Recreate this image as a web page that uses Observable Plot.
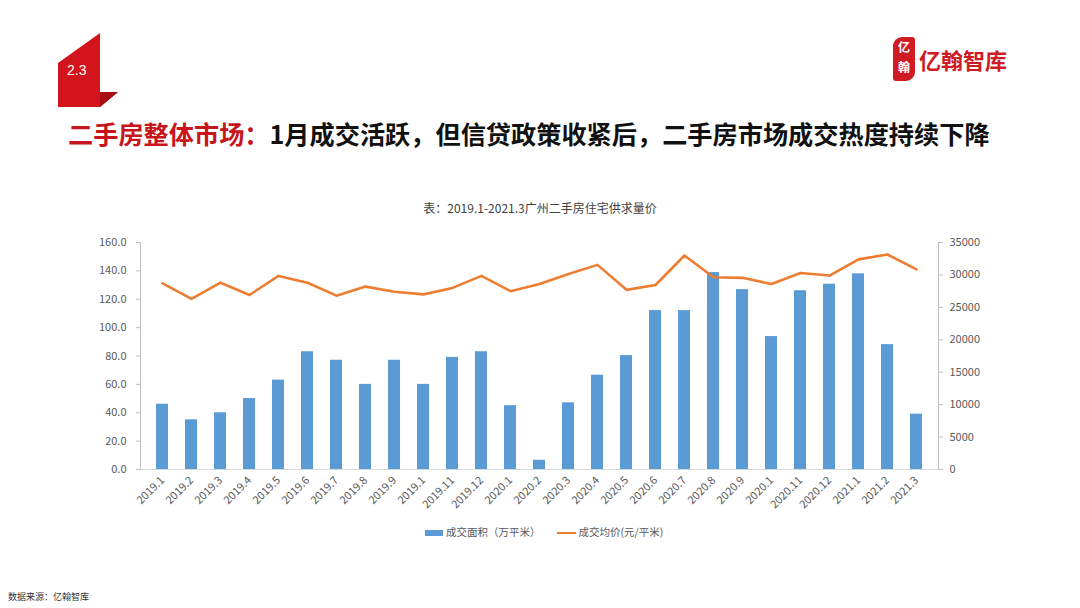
<!DOCTYPE html>
<html><head><meta charset="utf-8">
<script src="https://cdn.jsdelivr.net/npm/d3@7"></script>
<script src="https://cdn.jsdelivr.net/npm/@observablehq/plot@0.6"></script>
<style>
body{margin:0;background:#fff;}
#page{position:relative;width:1080px;height:608px;overflow:hidden;font-family:"Noto Sans CJK SC","Noto Sans",sans-serif;background:#fff;}
.abs{position:absolute;white-space:nowrap;}
#badge{left:58px;top:33px;width:60px;height:74px;background:#D2141C;clip-path:polygon(0% 40.5%,70% 0%,70% 79.7%,100% 79.7%,70% 100%,0% 100%);}
#fold{left:100px;top:92px;width:18px;height:15px;background:#A80E14;clip-path:polygon(0 0,100% 0,0 100%);}
#badgeTxt{left:67px;top:62px;color:#fff;font-size:14px;font-family:"Liberation Sans",Arial,sans-serif;}
#title{left:68px;top:115px;font-size:25.2px;font-weight:bold;color:#111;}
#title span{color:#C8151D;}
#logoIcon{left:893px;top:37px;width:22px;height:44px;background:#CE1B24;border-radius:9px 3px 9px 3px;color:#fff;font-size:12px;line-height:20px;text-align:center;font-weight:bold;}
#logoTxt{left:919px;top:43px;font-size:22px;font-weight:bold;color:#CE1B24;}
#ctitle{left:0;width:1080px;top:199px;text-align:center;font-size:12px;color:#404040;}
#chart{left:0;top:230px;}
#legend{left:425px;top:524px;font-size:10.5px;color:#595959;}
.sw{display:inline-block;vertical-align:middle;margin-right:3px;}
#src{left:8px;top:590px;font-size:9px;color:#333;}
</style></head>
<body><div id="page">
<div id="badge" class="abs"></div>
<div id="fold" class="abs"></div>
<div id="badgeTxt" class="abs">2.3</div>
<div id="title" class="abs"><span>二手房整体市场：</span>1月成交活跃，但信贷政策收紧后，二手房市场成交热度持续下降</div>
<div id="logoIcon" class="abs">亿<br>翰</div>
<div id="logoTxt" class="abs">亿翰智库</div>
<div id="ctitle" class="abs">表：2019.1-2021.3广州二手房住宅供求量价</div>
<div id="chart" class="abs"></div>
<div id="legend" class="abs"><span class="sw" style="width:18px;height:6px;background:#5B9BD5"></span>成交面积（万平米）<span class="sw" style="width:19px;height:2px;background:#ED7D31;margin-left:16px"></span>成交均价(元/平米)</div>
<div id="src" class="abs">数据来源：亿翰智库</div>
</div>
<script>
const months = ["2019.01","2019.02","2019.03","2019.04","2019.05","2019.06","2019.07","2019.08","2019.09","2019.10","2019.11","2019.12",
  "2020.01","2020.02","2020.03","2020.04","2020.05","2020.06","2020.07","2020.08","2020.09","2020.10","2020.11","2020.12",
  "2021.01","2021.02","2021.03"];
const tickLabels = ["2019.1","2019.2","2019.3","2019.4","2019.5","2019.6","2019.7","2019.8","2019.9","2019.1","2019.11","2019.12",
  "2020.1","2020.2","2020.3","2020.4","2020.5","2020.6","2020.7","2020.8","2020.9","2020.1","2020.11","2020.12",
  "2021.1","2021.2","2021.3"];
const area = [46,35,40,50,63,83,77,60,77,60,79,83,
  45,6.5,47,66.5,80.3,112,112,138.8,126.8,93.7,126,130.6,
  137.9,88,39];
const price = [28700,26300,28800,26900,29850,28800,26800,28200,27400,27000,28000,29850,
  27500,28600,30150,31550,27700,28450,33000,29650,29550,28600,30300,29900,
  32400,33150,30850];
const leftTicks = [0,20,40,60,80,100,120,140,160];
const rightTicks = [0,5000,10000,15000,20000,25000,30000,35000];
const leftMax = 160, rightMax = 35000;

const rows = months.map((m,i)=>({month:m, area:area[i], price:price[i]}));
const toLeft = v => v * leftMax / rightMax;

const chart = Plot.plot({
  width:1080, height:290,
  marginTop:12, marginLeft:140, marginRight:142, marginBottom:51,
  style:{fontFamily:"'Noto Sans CJK SC','Noto Sans',sans-serif", fontSize:"11px", color:"#595959", background:"transparent"},
  x:{domain:months, paddingInner:0.6, paddingOuter:0.3, label:null, axis:null},
  y:{domain:[0,leftMax], label:null, axis:null},
  marks:[
    Plot.barY(rows,{x:"month", y:"area", fill:"#5B9BD5"}),
    Plot.line(rows,{x:"month", y:d=>toLeft(d.price), stroke:"#ED7D31", strokeWidth:2.6, curve:"linear"}),
    Plot.ruleY([0],{stroke:"#D9D9D9"}),
    Plot.frame({anchor:"left", stroke:"#BFBFBF"}),
    Plot.frame({anchor:"right", stroke:"#BFBFBF"}),
    Plot.axisY(leftTicks,{anchor:"left", label:null, tickSize:4, tickPadding:10, stroke:"#BFBFBF", tickFormat:d3.format(".1f"), fontSize:11, fill:"#595959"}),
    Plot.axisY(rightTicks.map(toLeft),{anchor:"right", label:null, tickSize:4, tickPadding:7, stroke:"#BFBFBF", tickFormat:d=>String(Math.round(d*rightMax/leftMax)), fontSize:11, fill:"#595959"}),
    Plot.axisX({anchor:"bottom", label:null, tickSize:0, tickPadding:9, tickRotate:-45, fontSize:11, fill:"#595959", tickFormat:d=>tickLabels[months.indexOf(d)]})
  ]
});
document.getElementById("chart").appendChild(chart);
</script>
</body></html>
